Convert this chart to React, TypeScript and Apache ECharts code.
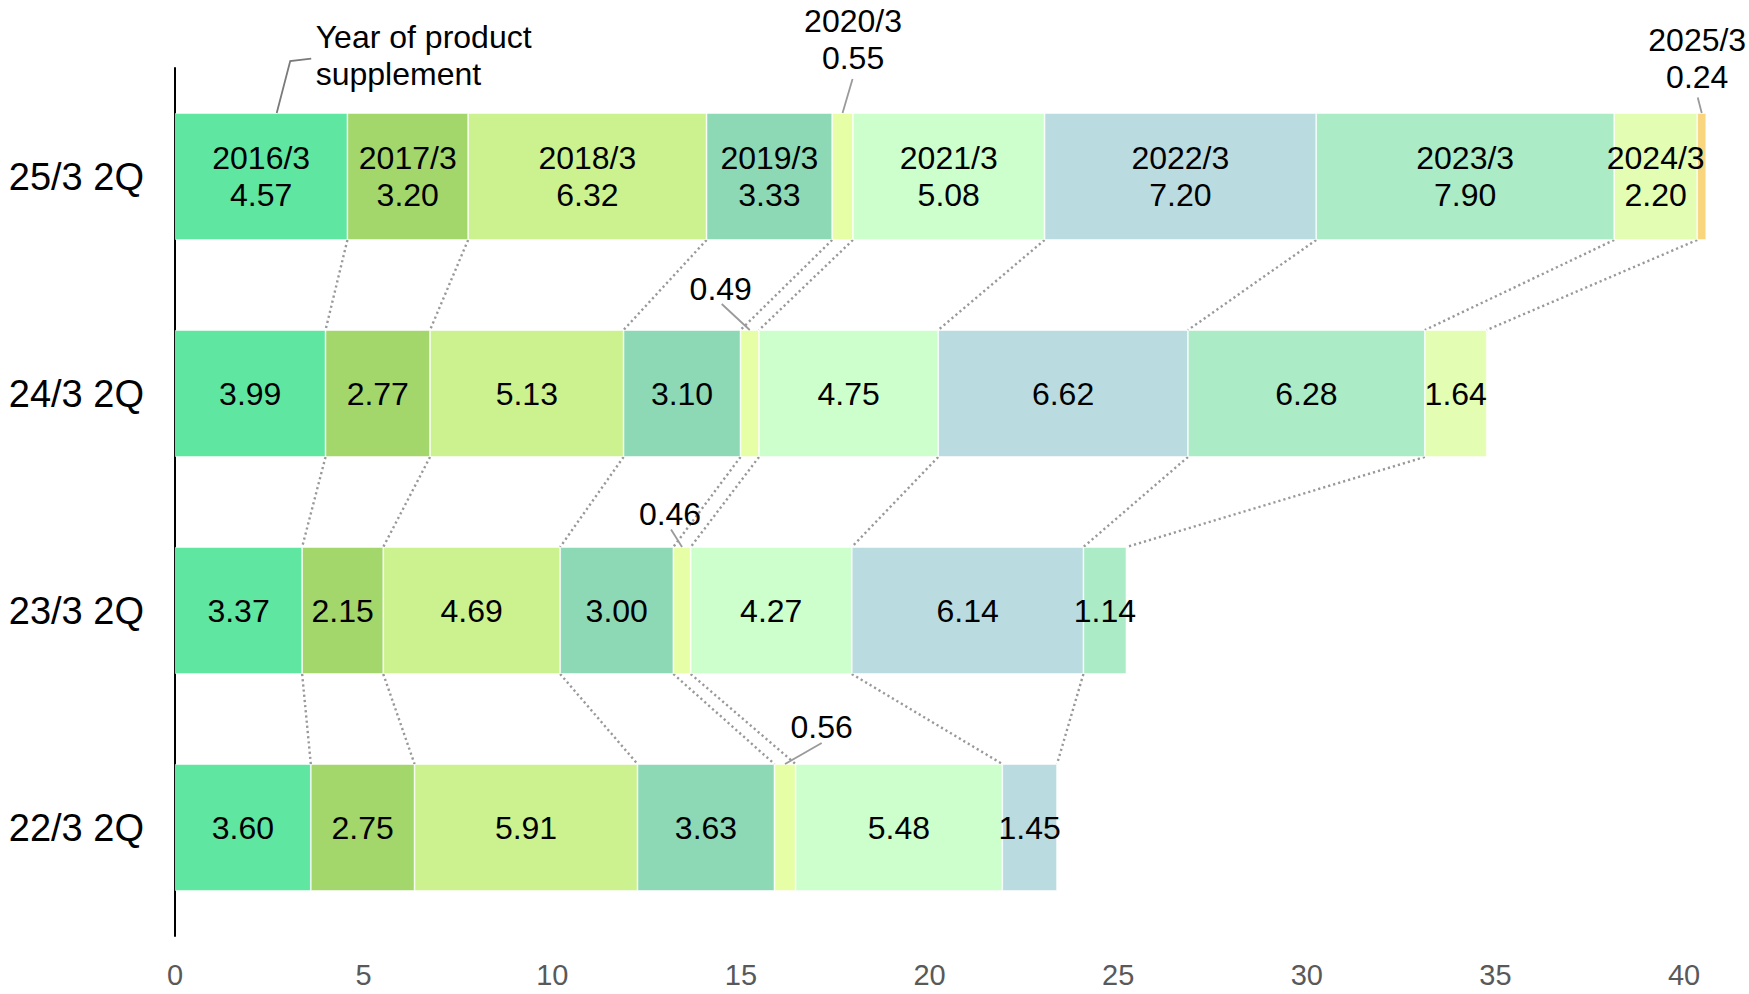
import React, { useEffect, useRef } from 'react';
import * as echarts from 'echarts';

// ---- data ----
const categories = ['25/3 2Q', '24/3 2Q', '23/3 2Q', '22/3 2Q']; // top to bottom
const vintages = ['2016/3', '2017/3', '2018/3', '2019/3', '2020/3', '2021/3', '2022/3', '2023/3', '2024/3', '2025/3'];
const row25 = [4.57, 3.2, 6.32, 3.33, 0.55, 5.08, 7.2, 7.9, 2.2, 0.24];
const row24 = [3.99, 2.77, 5.13, 3.1, 0.49, 4.75, 6.62, 6.28, 1.64];
const row23 = [3.37, 2.15, 4.69, 3.0, 0.46, 4.27, 6.14, 1.14];
const row22 = [3.6, 2.75, 5.91, 3.63, 0.56, 5.48, 1.45];
const rows = [row25, row24, row23, row22];
const xTicks = [0, 5, 10, 15, 20, 25, 30, 35, 40];
const annotationText = 'Year of product\nsupplement';

// ---- style ----
const colors = ['#5FE6A0', '#A3D66B', '#CCF290', '#8DD9B5', '#E6FFA6', '#CCFFCC', '#BADCE0', '#ABEBC6', '#E3FDB3', '#F9D57E'];
const FONT = "'Liberation Sans', Arial, Helvetica, sans-serif";
const BAR_RATIO = 0.585;

// callouts: [seriesIndex, rowIndex, labelDx, labelDy, leaderDx, leaderDy] relative to bar top-centre
const callouts: number[][] = [
  [4, 0, 10.5, -74, 10, -34],
  [9, 0, -4.5, -55, -4, -15.5],
  [4, 1, -29, -41, -28, -26],
  [4, 2, -12, -33.5, -11, -17.5],
  [4, 3, 36.7, -37.5, 36.7, -21],
];

function cums(row: number[]) {
  const out = [0];
  row.forEach((v) => out.push(out[out.length - 1] + v));
  return out;
}

export default function App() {
  const ref = useRef<HTMLDivElement>(null);
  useEffect(() => {
    if (!ref.current) return;
    const chart = echarts.init(ref.current, undefined, { renderer: 'svg' });

    const barSeries = vintages.map((name, s) => ({
      name,
      type: 'bar',
      stack: 'total',
      barWidth: `${BAR_RATIO * 100}%`,
      clip: false,
      z: 3,
      itemStyle: { color: colors[s], borderColor: 'rgba(255,255,255,0.7)', borderWidth: 0.8 },
      label: {
        show: true,
        position: 'inside',
        color: '#000',
        fontSize: 32,
        lineHeight: 37,
        fontFamily: FONT,
      },
      data: rows.map((row, r) => {
        const v = row[s];
        if (v === undefined) return null;
        const isCallout = callouts.some((c) => c[0] === s && c[1] === r);
        return {
          value: v,
          label: {
            show: !isCallout,
            formatter: r === 0 ? `${name}\n${v.toFixed(2)}` : v.toFixed(2),
          },
        };
      }),
    }));

    const connectorData: number[][] = [];
    for (let r = 0; r < rows.length - 1; r++) {
      const up = cums(rows[r]);
      const lo = cums(rows[r + 1]);
      for (let k = 1; k < lo.length; k++) connectorData.push([up[k], r, lo[k], r + 1]);
    }

    const connectorSeries = {
      type: 'custom',
      coordinateSystem: 'cartesian2d',
      clip: false,
      z: 1,
      silent: true,
      encode: { x: 0, y: 1 },
      data: connectorData,
      renderItem: (params: any, api: any) => {
        const p1 = api.coord([api.value(0), api.value(1)]);
        const p2 = api.coord([api.value(2), api.value(3)]);
        const band = api.size([0, 1])[1];
        const half = (band * BAR_RATIO) / 2;
        return {
          type: 'line',
          shape: { x1: p1[0], y1: p1[1] + half, x2: p2[0], y2: p2[1] - half },
          style: { stroke: '#999999', lineWidth: 2.4, lineDash: [2.2, 3] },
        };
      },
    };

    chart.setOption({
      animation: false,
      grid: { left: 175, right: 65, top: 68, bottom: 58, containLabel: false },
      xAxis: {
        type: 'value',
        min: xTicks[0],
        max: xTicks[xTicks.length - 1],
        interval: xTicks[1] - xTicks[0],
        splitLine: { show: false },
        axisLine: { show: false },
        axisTick: { show: false },
        axisLabel: { color: '#595959', fontSize: 29, fontFamily: FONT, margin: 24 },
      },
      yAxis: {
        type: 'category',
        data: categories,
        inverse: true,
        axisLine: { show: true, lineStyle: { color: '#000', width: 2 } },
        axisTick: { show: false },
        axisLabel: { color: '#000', fontSize: 38, fontFamily: FONT, margin: 31 },
      },
      series: [...barSeries, connectorSeries],
    });

    // callout labels & leaders
    const toPx = (x: number, r: number) => chart.convertToPixel({ xAxisIndex: 0, yAxisIndex: 0 }, [x, r]) as number[];
    const bandPx = Math.abs(toPx(0, 1)[1] - toPx(0, 0)[1]);
    const half = (bandPx * BAR_RATIO) / 2;
    const graphics: any[] = [];
    callouts.forEach(([s, r, ldx, ldy, kdx, kdy]) => {
      const c = cums(rows[r]);
      const v = rows[r][s];
      const mid = (c[s] + c[s + 1]) / 2;
      const p = toPx(mid, r);
      const top = p[1] - half;
      const text = r === 0 ? `${vintages[s]}\n${v.toFixed(2)}` : v.toFixed(2);
      graphics.push({
        type: 'line',
        silent: true,
        z: 10,
        shape: { x1: p[0], y1: top, x2: p[0] + kdx, y2: top + kdy },
        style: { stroke: '#9a9a9a', lineWidth: 1.8 },
      });
      graphics.push({
        type: 'text',
        silent: true,
        z: 10,
        x: p[0] + ldx,
        y: top + ldy,
        style: {
          text,
          fill: '#000',
          fontSize: 32,
          lineHeight: 37,
          fontFamily: FONT,
          align: 'center',
          verticalAlign: 'middle',
        },
      });
    });

    // annotation "Year of product supplement" pointing at the 2016/3 bar of the top row
    {
      const c = cums(rows[0]);
      const ax = c[0] + (c[1] - c[0]) * 0.59;
      const p = toPx(ax, 0);
      const top = p[1] - half;
      graphics.push({
        type: 'polyline',
        silent: true,
        z: 10,
        shape: { points: [[p[0], top], [p[0] + 13.5, top - 52], [p[0] + 34.5, top - 54.5]] },
        style: { stroke: '#7a7a7a', lineWidth: 1.8, fill: null },
      });
      graphics.push({
        type: 'text',
        silent: true,
        z: 10,
        x: p[0] + 39,
        y: top - 58,
        style: {
          text: annotationText,
          fill: '#000',
          fontSize: 32,
          lineHeight: 37,
          fontFamily: FONT,
          align: 'left',
          verticalAlign: 'middle',
        },
      });
    }

    chart.setOption({ graphic: graphics });

    return () => chart.dispose();
  }, []);

  return (
    <div
      ref={ref}
      style={{ position: 'fixed', left: 0, top: 0, width: 1749, height: 994, background: '#fff' }}
    />
  );
}
